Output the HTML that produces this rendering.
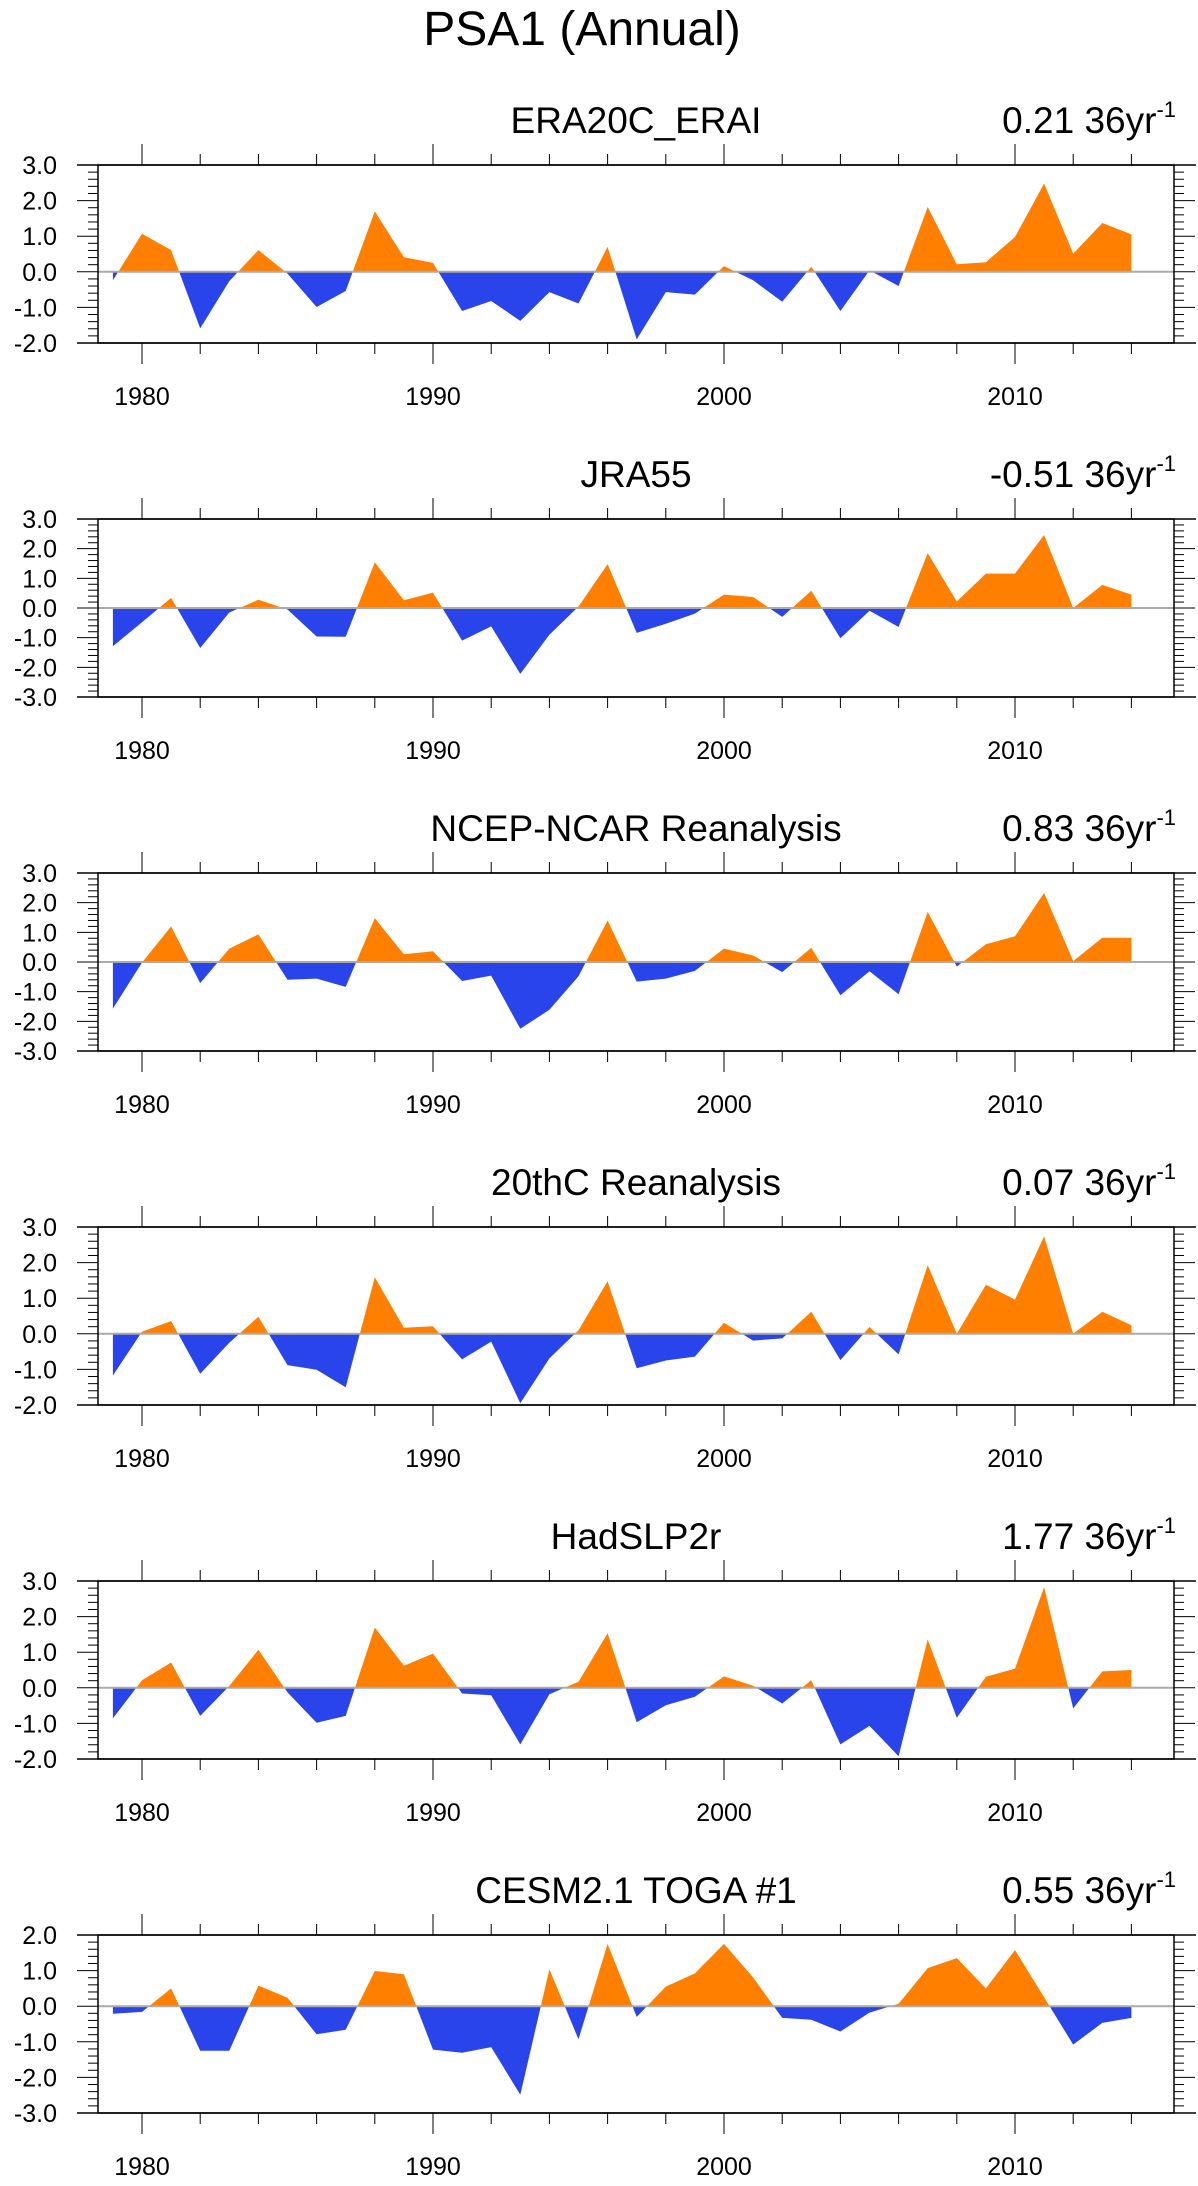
<!DOCTYPE html>
<html><head><meta charset="utf-8"><style>
html,body{margin:0;padding:0;background:#fff;}
svg{display:block;font-family:"Liberation Sans",sans-serif;}
</style></head><body>
<svg id="fig" width="1198" height="2186" viewBox="0 0 1198 2186" xmlns="http://www.w3.org/2000/svg">
<text x="582" y="45" font-size="48" text-anchor="middle">PSA1 (Annual)</text>
</svg>
<script>
const years = [1979,1980,1981,1982,1983,1984,1985,1986,1987,1988,1989,1990,1991,1992,1993,1994,1995,1996,1997,1998,1999,2000,2001,2002,2003,2004,2005,2006,2007,2008,2009,2010,2011,2012,2013,2014];
const titles = ["ERA20C_ERAI","JRA55","NCEP-NCAR Reanalysis","20thC Reanalysis","HadSLP2r","CESM2.1 TOGA #1"];
const trends = ["0.21","-0.51","0.83","0.07","1.77","0.55"];
const yMaxs = [3,3,3,3,3,2];
const yMins = [-2,-3,-3,-2,-2,-3];
const era20c = [-0.24,1.07,0.61,-1.59,-0.26,0.61,-0.05,-0.99,-0.54,1.70,0.41,0.25,-1.10,-0.82,-1.38,-0.57,-0.89,0.70,-1.90,-0.57,-0.64,0.16,-0.24,-0.84,0.14,-1.10,0.04,-0.40,1.82,0.21,0.27,0.98,2.48,0.51,1.37,1.05];
const jra55 = [-1.29,-0.48,0.34,-1.35,-0.15,0.28,-0.05,-0.96,-0.97,1.54,0.26,0.52,-1.10,-0.62,-2.22,-0.90,0.05,1.48,-0.84,-0.53,-0.19,0.45,0.37,-0.30,0.58,-1.02,-0.09,-0.64,1.85,0.22,1.16,1.16,2.46,0.0,0.78,0.45];
const ncep = [-1.57,-0.02,1.20,-0.71,0.45,0.93,-0.60,-0.56,-0.84,1.48,0.26,0.36,-0.64,-0.46,-2.25,-1.61,-0.48,1.40,-0.66,-0.56,-0.30,0.45,0.22,-0.34,0.48,-1.12,-0.31,-1.09,1.69,-0.15,0.60,0.87,2.33,0.03,0.82,0.82];
const c20 = [-1.17,0.06,0.36,-1.12,-0.25,0.48,-0.88,-1.01,-1.50,1.59,0.17,0.21,-0.72,-0.22,-1.95,-0.69,0.10,1.48,-0.97,-0.75,-0.64,0.31,-0.19,-0.13,0.62,-0.74,0.19,-0.58,1.93,0.0,1.38,0.96,2.74,0.0,0.62,0.24];
const hadslp = [-0.86,0.21,0.71,-0.79,0.05,1.07,-0.13,-0.98,-0.79,1.69,0.62,0.96,-0.16,-0.21,-1.59,-0.18,0.17,1.53,-0.97,-0.49,-0.25,0.32,0.06,-0.44,0.21,-1.59,-1.07,-1.92,1.36,-0.84,0.31,0.54,2.83,-0.58,0.46,0.50];
const cesm = [-0.21,-0.16,0.50,-1.25,-1.25,0.58,0.24,-0.79,-0.66,0.99,0.90,-1.22,-1.31,-1.15,-2.49,1.04,-0.93,1.75,-0.30,0.55,0.92,1.75,0.81,-0.33,-0.38,-0.71,-0.18,0.07,1.07,1.35,0.50,1.58,0.25,-1.08,-0.47,-0.33];
const seriesList = [era20c,jra55,ncep,c20,hadslp,cesm];
const xTickYears = [1980,1990,2000,2010];

const NS="http://www.w3.org/2000/svg";
const svg=document.getElementById('fig');
const L=98,R=1174,H=178;
function mk(tag,attrs,parent){const e=document.createElementNS(NS,tag);for(const k in attrs)e.setAttribute(k,attrs[k]);(parent||svg).appendChild(e);return e;}
function xs(yr){return 142+(yr-1980)*(1015-142)/30;}

seriesList.forEach((data,i)=>{
  const top=165+i*354, bot=top+H;
  const ymax=yMaxs[i], ymin=yMins[i];
  const ys=v=>top+(ymax-v)*H/(ymax-ymin);
  const g=mk('g',{});
  
  
  const z=ys(0);
  const cpA=mk('clipPath',{id:'ca'+i},g); mk('rect',{x:L,y:top,width:R-L,height:z-top},cpA);
  const cpB=mk('clipPath',{id:'cb'+i},g); mk('rect',{x:L,y:z,width:R-L,height:bot-z},cpB);
  let pts=xs(years[0])+','+z+' ';
  data.forEach((v,k)=>{pts+=xs(years[k]).toFixed(1)+','+ys(v).toFixed(1)+' ';});
  pts+=xs(years[years.length-1])+','+z;
  const pa=mk('polygon',{points:pts,fill:'#ff8000','clip-path':'url(#ca'+i+')'},g);
  
  
  const pb=mk('polygon',{points:pts,fill:'#2844ea','clip-path':'url(#cb'+i+')'},g);
  
  
  const zl=mk('line',{x1:L,x2:R,y1:z,y2:z,stroke:'#aaaaaa','stroke-width':2},g);
  
  
  // frame
  const fr=mk('rect',{x:L,y:top,width:R-L,height:H,fill:'none',stroke:'#000','stroke-width':1.5},g);
  
  
  mk('line',{x1:77,x2:1196,y1:top,y2:top,stroke:'#000','stroke-width':1.5},g);
  mk('line',{x1:77,x2:1196,y1:bot,y2:bot,stroke:'#000','stroke-width':1.5},g);
  // x ticks
  for(let yr=1980;yr<=2014;yr+=2){
    const x=xs(yr), len=(yr%10===0)?21:11;
    mk('line',{x1:x,x2:x,y1:top,y2:top-len,stroke:'#000','stroke-width':1},g);
    mk('line',{x1:x,x2:x,y1:bot,y2:bot+len,stroke:'#000','stroke-width':1},g);
  }
  xTickYears.forEach(yr=>{
    const t=mk('text',{x:xs(yr),y:bot+62,'font-size':25,'text-anchor':'middle'},g);
    
    
    t.textContent=yr;
  });
  // y ticks
  for(let k=Math.round(ymin*5);k<=Math.round(ymax*5);k++){
    const v=k/5, y=ys(v), major=(k%5===0);
    const len=major?21:10;
    mk('line',{x1:L,x2:L-len,y1:y,y2:y,stroke:'#000','stroke-width':1},g);
    mk('line',{x1:R,x2:R+len,y1:y,y2:y,stroke:'#000','stroke-width':1},g);
    if(major){
      const t=mk('text',{x:57,y:y+9,'font-size':25,'text-anchor':'end'},g);
      
      
      t.textContent=v.toFixed(1);
    }
  }
  const tt=mk('text',{x:636,y:top-32,'font-size':37,'text-anchor':'middle'},g);
  
  
  tt.textContent=titles[i];
  const tr=mk('text',{x:1176,y:top-32,'font-size':37,'text-anchor':'end'},g);
  
  
  tr.appendChild(document.createTextNode(trends[i]+' 36yr'));
  const sp=mk('tspan',{dy:-16,'font-size':22},tr);
  sp.textContent='-1';
});
</script>
</body></html>
